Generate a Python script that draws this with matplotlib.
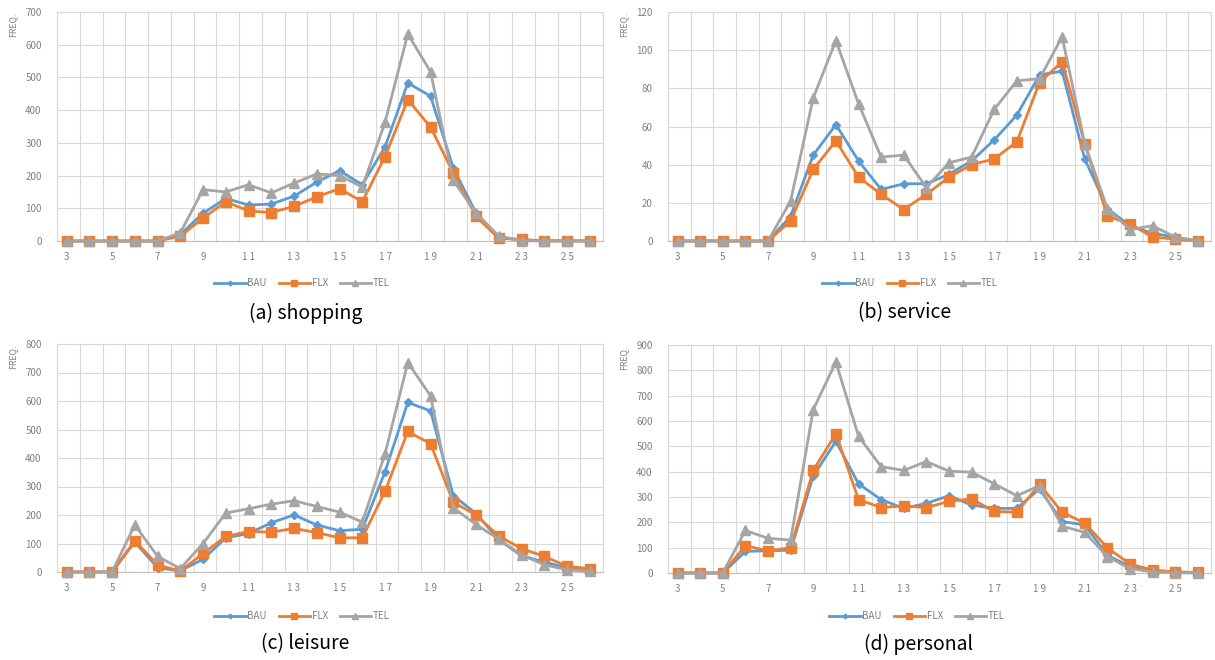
import matplotlib
matplotlib.use("Agg")
import matplotlib.pyplot as plt
import numpy as np

plt.rcParams['font.family'] = ['Noto Sans CJK KR', 'DejaVu Sans']

hours = list(range(3, 27))
tick_hours = list(range(3, 27, 2))
tick_labels = ['3', '5', '7', '9', '1 1', '1 3', '1 5', '1 7', '1 9', '2 1', '2 3', '2 5']
series_names = ['BAU', 'FLX', 'TEL']

shopping_bau = [0, 0, 0, 0, 0, 20, 85, 130, 110, 113, 137, 180, 215, 172, 288, 483, 443, 223, 85, 12, 2, 1, 1, 0]
shopping_flx = [0, 0, 0, 0, 0, 15, 70, 120, 92, 87, 106, 135, 160, 120, 258, 432, 348, 208, 75, 8, 5, 0, 0, 0]
shopping_tel = [0, 0, 0, 0, 0, 25, 157, 150, 172, 147, 177, 205, 200, 165, 363, 633, 517, 185, 85, 15, 1, 0, 0, 0]

service_bau = [0, 0, 0, 0, 0, 13, 45, 61, 42, 27, 30, 30, 35, 42, 53, 66, 87, 89, 43, 17, 8, 4, 2, 0]
service_flx = [0, 0, 0, 0, 0, 10.5, 37.5, 52.5, 33.5, 24.5, 16.5, 24.5, 33.5, 40, 43, 52, 83, 94, 51, 13, 9, 2, 1, 0]
service_tel = [0, 0, 0, 0, 0, 21, 75, 105, 72, 44, 45, 28, 41, 44, 69, 84, 85, 107, 51, 17, 6, 8, 2, 0]

leisure_bau = [0, 0, 0, 105, 15, 4, 45, 120, 135, 173, 200, 165, 145, 150, 352, 595, 565, 268, 205, 113, 57, 35, 15, 8]
leisure_flx = [0, 0, 0, 110, 25, 3, 65, 125, 142, 140, 153, 138, 120, 120, 283, 493, 450, 245, 200, 126, 82, 55, 20, 12]
leisure_tel = [0, 0, 0, 165, 55, 12, 100, 207, 222, 238, 250, 230, 210, 175, 415, 735, 618, 225, 167, 115, 60, 25, 8, 3]

personal_bau = [0, 0, 0, 85, 88, 90, 383, 520, 352, 290, 255, 275, 305, 268, 255, 255, 332, 203, 190, 70, 25, 8, 5, 0]
personal_flx = [0, 0, 0, 108, 87, 100, 405, 550, 290, 258, 265, 258, 283, 292, 243, 240, 350, 240, 197, 100, 35, 12, 4, 2]
personal_tel = [0, 0, 0, 168, 137, 130, 645, 833, 540, 420, 405, 440, 402, 398, 352, 305, 345, 185, 160, 65, 17, 5, 1, 0]

panels = [
    ('(a) shopping', [shopping_bau, shopping_flx, shopping_tel], 700, 100),
    ('(b) service', [service_bau, service_flx, service_tel], 120, 20),
    ('(c) leisure', [leisure_bau, leisure_flx, leisure_tel], 800, 100),
    ('(d) personal', [personal_bau, personal_flx, personal_tel], 900, 100),
]

colors = ['#5B9BD5', '#ED7D31', '#A5A5A5']
markers = ['D', 's', '^']
msizes = [4, 6.5, 6.5]

W, H = 1215, 660
fig = plt.figure(figsize=(W / 100, H / 100), dpi=100)

# axes rectangles in pixels: left, top, right, bottom
rects = [
    (57, 12, 603, 241),
    (668, 12, 1211, 241),
    (57, 344, 603, 572),
    (668, 345, 1211, 573),
]
legend_y = [283, 283, 616, 616]
legend_x = [302, 910, 302, 917]
caption_y = [313, 313, 644, 644]
caption_x = [306, 905, 305, 918]

off = 0.42
for i, (title, data, ymax, ystep) in enumerate(panels):
    l, t, r, b = rects[i]
    ax = fig.add_axes([l / W, 1 - b / H, (r - l) / W, (b - t) / H])
    handles = []
    for k in range(3):
        h, = ax.plot(hours, data[k], color=colors[k], marker=markers[k],
                     markersize=msizes[k], linewidth=2.0, label=series_names[k],
                     zorder=3 + k, clip_on=False)
        handles.append(h)
    ax.set_xlim(hours[0] - off, hours[-1] + 1 - off)
    ax.set_ylim(0, ymax)
    ax.set_yticks(np.arange(0, ymax + 1, ystep))
    ax.set_xticks(tick_hours)
    ax.set_xticklabels(tick_labels)
    # vertical gridlines at category boundaries
    for xb in np.arange(hours[0] - off, hours[-1] + 1 - off + 0.01, 1.0):
        ax.axvline(xb, color='#D9D9D9', linewidth=0.8, zorder=0)
    ax.yaxis.grid(True, color='#D9D9D9', linewidth=0.8, zorder=0)
    ax.set_axisbelow(True)
    for s in ['top', 'right', 'left']:
        ax.spines[s].set_color('#D9D9D9')
        ax.spines[s].set_linewidth(0.8)
    ax.spines['bottom'].set_color('#BFBFBF')
    ax.spines['bottom'].set_linewidth(0.8)
    ax.tick_params(axis='both', length=0, labelsize=7, labelcolor='#808080')
    ax.tick_params(axis='y', pad=11)
    ax.tick_params(axis='x', pad=8)
    fig.text((l - 44) / W, 1 - (t + 13) / H, 'FREQ.', rotation=90, fontsize=6.3,
             color='#808080', ha='center', va='center')
    fig.legend(handles=handles, loc='center', bbox_to_anchor=(legend_x[i] / W, 1 - legend_y[i] / H),
               ncol=3, frameon=False, fontsize=7, labelcolor='#808080',
               handlelength=3.2, columnspacing=1.2, handletextpad=0.2, markerscale=0.6)
    fig.text(caption_x[i] / W, 1 - caption_y[i] / H, title, fontsize=14, fontweight='medium',
             ha='center', va='center', color='black')

fig.savefig('out.png', dpi=100)
